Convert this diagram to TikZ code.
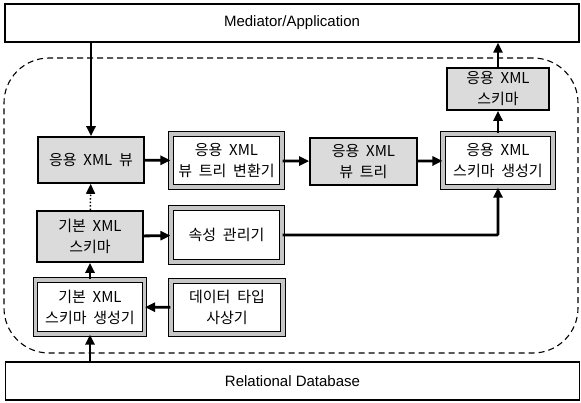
\documentclass[tikz,border=0pt]{standalone}
\usepackage{fontspec}
\setmainfont{Noto Sans CJK KR}[WordSpace=2]
\newfontfamily\latinsans{Liberation Sans}
\usetikzlibrary{arrows.meta}
\tikzset{
  flow/.style={-{Triangle[length=10pt,width=9pt]}, line width=2.8pt},
  hint/.style={-{Triangle[length=10pt,width=9pt]}, line width=1.5pt, dotted},
  data/.style={draw, line width=1.6pt, fill=gray!28, align=center, inner sep=0pt,
    font=\fontsize{15}{21}\selectfont},
  module/.style={draw, line width=1.1pt, double=gray!45, double distance=3.5pt, fill=white,
    align=center, inner sep=0pt, font=\fontsize{15}{21}\selectfont},
  layer/.style={draw, line width=1.2pt, fill=white, inner sep=0pt,
    minimum width=574pt, minimum height=38pt, font=\latinsans\fontsize{15}{16}\selectfont},
  frame/.style={draw, line width=1.1pt, dash pattern=on 6pt off 4pt, rounded corners=45pt,
    minimum width=574pt, minimum height=295pt},
}
\definecolor{paper}{RGB}{255,255,255}

\begin{document}
\begin{tikzpicture}[x=1pt,y=-1pt]
  \useasboundingbox[fill=paper] (0,0) rectangle (581,402);
  % outer layers
  \node[layer] (med) at (292,23) {Mediator/Application};
  \node[layer] (db) at (292.5,381) {Relational Database};
  \node[frame] (core) at (291,205.5) {};
  % data (shaded) boxes
  \node[data, minimum width=106pt, minimum height=46pt] (view) at (91,160) {응용 XML 뷰};
  \node[data, minimum width=107pt, minimum height=47pt] (tree) at (363.5,161.5) {응용 XML\\뷰 트리};
  \node[data, minimum width=102pt, minimum height=42pt] (appsch) at (498,89) {응용 XML\\스키마};
  \node[data, minimum width=106pt, minimum height=51pt] (basesch) at (90,236.5) {기본 XML\\스키마};
  % module (double) boxes
  \node[module, minimum width=111pt, minimum height=53pt] (conv) at (226.5,160.5) {응용 XML\\뷰 트리 변환기};
  \node[module, minimum width=110pt, minimum height=53pt] (schgen) at (498,160.5) {응용 XML\\스키마 생성기};
  \node[module, minimum width=111pt, minimum height=54pt] (prop) at (226.5,235) {속성 관리기};
  \node[module, minimum width=109pt, minimum height=54pt] (basegen) at (90,307) {기본 XML\\스키마 생성기};
  \node[module, minimum width=112pt, minimum height=53pt] (typemap) at (227,307.5) {데이터 타입\\사상기};
  % connectors
  \draw[flow] (view.north |- med.south) -- (view.north);
  \draw[flow] (view) -- (conv);
  \draw[flow] (conv) -- (tree);
  \draw[flow] (tree) -- (schgen);
  \draw[flow] (schgen) -- (appsch);
  \draw[flow] (appsch.north) -- (appsch.north |- med.south);
  \draw[flow] (basesch) -- (prop);
  \draw[flow, rounded corners=1pt] (prop.east) -| (schgen.south);
  \draw[hint] (basesch) -- (view);
  \draw[flow] (basegen) -- (basesch);
  \draw[flow] (typemap) -- (basegen);
  \draw[flow] (basegen.south |- db.north) -- (basegen.south);
\end{tikzpicture}
\end{document}
